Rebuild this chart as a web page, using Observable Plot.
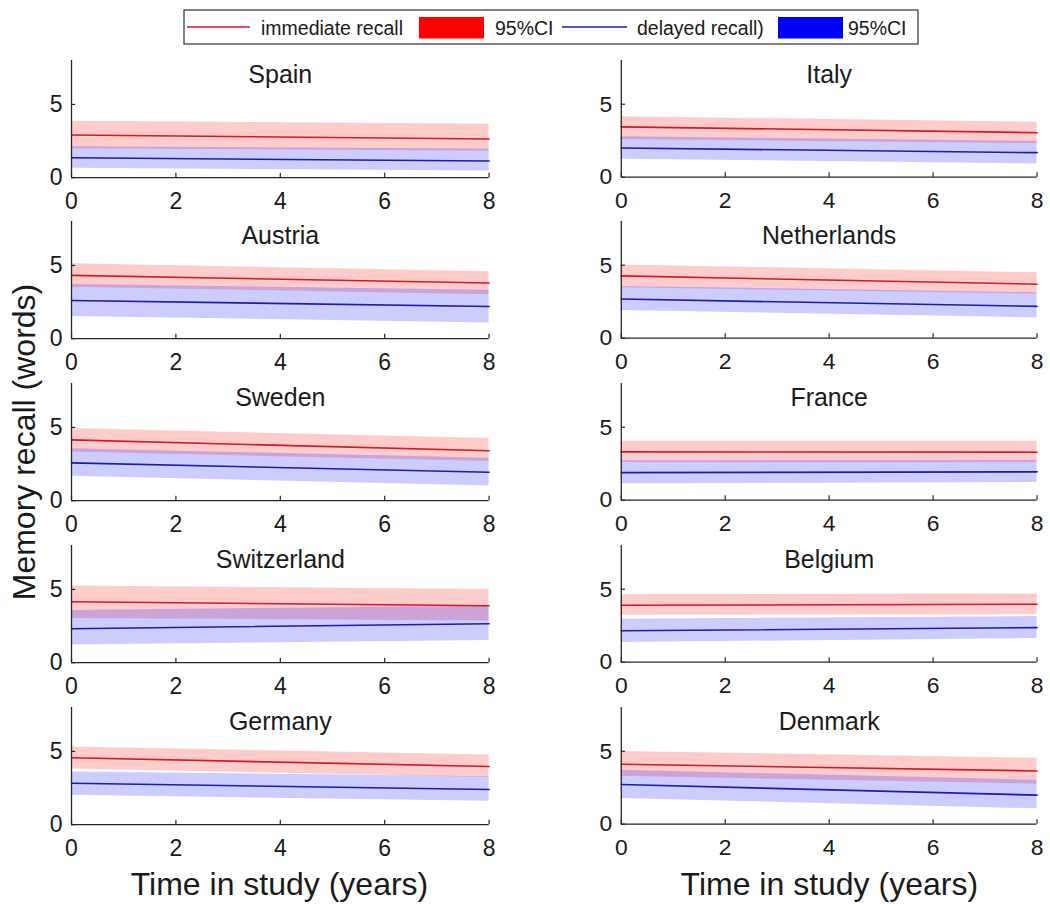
<!DOCTYPE html>
<html><head><meta charset="utf-8">
<script src="https://cdn.jsdelivr.net/npm/d3@7"></script>
<script src="https://cdn.jsdelivr.net/npm/@observablehq/plot@0.6"></script>
<style>
body{margin:0;background:#fff}
#fig{position:relative;width:1050px;height:906px;overflow:hidden;background:#fff}
</style>
</head><body><div id="fig"></div>
<script>
// ---- data ----
const countries = ["Spain","Italy","Austria","Netherlands","Sweden","France","Switzerland","Belgium","Germany","Denmark"];
const years = [0, 8];
const xTicks = [0, 2, 4, 6, 8];
const yTicks = [0, 5];
const legendLabels = ["immediate recall", "95%CI", "delayed recall)", "95%CI"];
const xAxisLabel = "Time in study (years)";
const yAxisLabel = "Memory recall (words)";

// values at year 0 and year 8
const immediateMean = [[2.91,2.64],[3.45,3.05],[4.32,3.80],[4.27,3.70],[4.15,3.41],[3.31,3.29],[4.16,3.89],[3.90,3.97],[4.57,3.97],[4.11,3.65]];
const immediateLow  = [[1.98,1.80],[2.58,2.30],[3.52,3.00],[3.45,3.02],[3.32,2.67],[2.58,2.56],[3.02,2.84],[3.22,3.26],[3.80,3.22],[3.29,2.74]];
const immediateHigh = [[3.86,3.64],[4.14,3.77],[5.11,4.57],[5.02,4.48],[4.93,4.24],[4.04,4.04],[5.23,5.00],[4.63,4.68],[5.30,4.75],[4.98,4.52]];
const delayedMean   = [[1.36,1.14],[2.00,1.68],[2.61,2.20],[2.68,2.18],[2.58,1.94],[1.89,1.94],[2.32,2.66],[2.15,2.37],[2.83,2.40],[2.72,1.99]];
const delayedLow    = [[0.64,0.45],[1.23,0.91],[1.52,1.07],[1.89,1.39],[1.66,1.01],[1.12,1.21],[1.20,1.52],[1.35,1.62],[2.01,1.60],[1.76,1.05]];
const delayedHigh   = [[2.12,1.95],[2.77,2.45],[3.70,3.30],[3.55,3.12],[3.55,2.90],[2.70,2.72],[3.57,3.85],[2.95,3.13],[3.60,3.28],[3.70,3.01]];

// ---- layout ----
const FONT = '"Liberation Sans", Arial, Helvetica, sans-serif';
const AX = "#262626";
const RED_LINE = "#d01a28", BLUE_LINE = "#1c1cb0";
const colLeft = [70.7, 620.5];
const plotW = 417.6, plotH = 117.2;
const row0 = 176.7, rowStep = 161.8;
const mL = 50, mR = 14, mT = 4, mB = 42;

const fig = document.getElementById("fig");

countries.forEach((c, i) => {
  const col = i % 2, row = Math.floor(i / 2);
  const data = years.map((yr, j) => ({
    year: yr,
    imm: immediateMean[i][j], immLo: immediateLow[i][j], immHi: immediateHigh[i][j],
    del: delayedMean[i][j], delLo: delayedLow[i][j], delHi: delayedHigh[i][j]
  }));
  const chart = Plot.plot({
    width: mL + plotW + mR,
    height: mT + plotH + mB,
    marginLeft: mL, marginRight: mR, marginTop: mT, marginBottom: mB,
    style: {fontFamily: FONT, fontSize: "23px", color: AX, background: "transparent", overflow: "visible"},
    x: {domain: [0, 8], label: null},
    y: {domain: [0, 8], label: null},
    marks: [
      Plot.areaY(data, {x: "year", y1: "immLo", y2: "immHi", fill: "#ff0000", fillOpacity: 0.2}),
      Plot.areaY(data, {x: "year", y1: "delLo", y2: "delHi", fill: "#0000ff", fillOpacity: 0.2}),
      Plot.lineY(data, {x: "year", y: "imm", stroke: RED_LINE, strokeWidth: 1.6}),
      Plot.lineY(data, {x: "year", y: "del", stroke: BLUE_LINE, strokeWidth: 1.6}),
      Plot.ruleY([0], {stroke: AX, strokeWidth: 1.3}),
      Plot.ruleX([0], {stroke: AX, strokeWidth: 1.3}),
      Plot.ruleX(xTicks, {x: d => d, y1: 0, y2: 0.3, stroke: AX, strokeWidth: 1.2}),
      Plot.ruleY(yTicks, {y: d => d, x1: 0, x2: 0.08, stroke: AX, strokeWidth: 1.2}),
      Plot.axisX({ticks: xTicks, tickSize: 0, tickPadding: 15, label: null, tickFormat: d => String(d), fill: "#1a1a1a"}),
      Plot.axisY({ticks: yTicks, tickSize: 0, tickPadding: 9, label: null, tickFormat: d => String(d), fill: "#1a1a1a"}),
      Plot.text([c], {text: d => d, frameAnchor: "top", dy: 5, fontSize: 25, fill: "#1a1a1a"})
    ]
  });
  const wrap = document.createElement("div");
  wrap.style.position = "absolute";
  wrap.style.left = (colLeft[col] - mL) + "px";
  wrap.style.top = (row0 + row * rowStep - plotH - mT) + "px";
  wrap.appendChild(chart);
  fig.appendChild(wrap);
});

// ---- overlay: axis labels and legend ----
const ov = d3.select(fig).append("svg")
  .attr("width", 1050).attr("height", 906)
  .style("position", "absolute").style("left", "0px").style("top", "0px")
  .style("pointer-events", "none")
  .attr("font-family", FONT);

ov.append("text")
  .attr("transform", "translate(35,442) rotate(-90)")
  .attr("text-anchor", "middle").attr("font-size", 32).attr("fill", "#1a1a1a")
  .text(yAxisLabel);

[0, 1].forEach(col => {
  ov.append("text")
    .attr("x", colLeft[col] + plotW / 2).attr("y", 895)
    .attr("text-anchor", "middle").attr("font-size", 32).attr("fill", "#1a1a1a")
    .text(xAxisLabel);
});

const lg = ov.append("g");
lg.append("rect").attr("x", 184).attr("y", 10).attr("width", 734).attr("height", 34)
  .attr("fill", "#fff").attr("stroke", "#333").attr("stroke-width", 1.2);
const lgText = (x, s) => lg.append("text").attr("x", x).attr("y", 34.5)
  .attr("font-size", 19.5).attr("fill", "#1a1a1a").text(s);
lg.append("line").attr("x1", 187).attr("x2", 250).attr("y1", 27).attr("y2", 27)
  .attr("stroke", RED_LINE).attr("stroke-width", 1.5);
lgText(261, legendLabels[0]);
lg.append("rect").attr("x", 419).attr("y", 17).attr("width", 65).attr("height", 21.5).attr("fill", "#ff0000");
lgText(495, legendLabels[1]);
lg.append("line").attr("x1", 562).attr("x2", 627).attr("y1", 27).attr("y2", 27)
  .attr("stroke", BLUE_LINE).attr("stroke-width", 1.5);
lgText(637, legendLabels[2]);
lg.append("rect").attr("x", 778).attr("y", 17).attr("width", 65).attr("height", 21.5).attr("fill", "#0000ff");
lgText(848, legendLabels[3]);
</script></body></html>
